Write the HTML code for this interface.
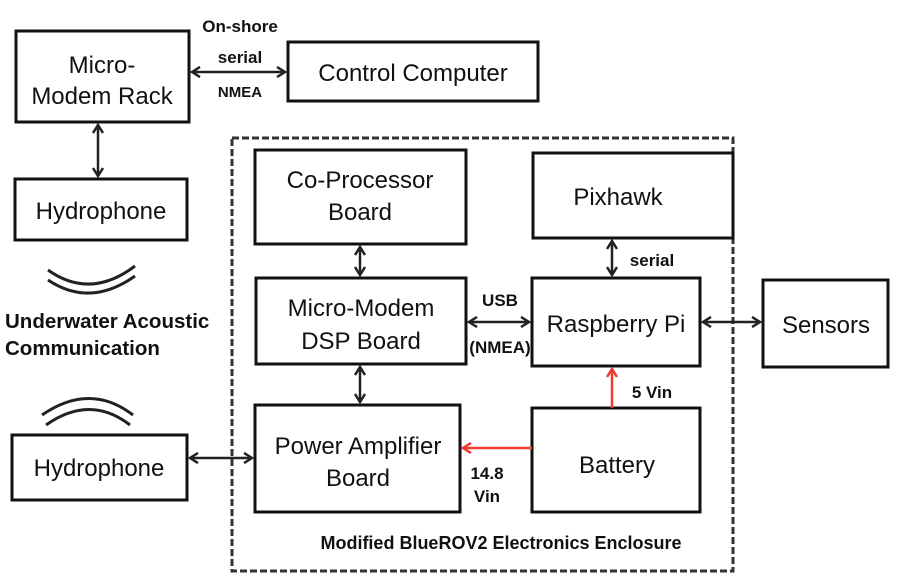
<!DOCTYPE html>
<html><head><meta charset="utf-8"><style>
html,body{margin:0;padding:0;background:#fff;width:902px;height:582px;overflow:hidden}
text{font-family:"Liberation Sans",sans-serif}
.b{font-size:24px;text-anchor:middle}
.l{font-size:17px;font-weight:bold;text-anchor:middle}
</style></head><body>
<svg width="902" height="582" viewBox="0 0 902 582" xmlns="http://www.w3.org/2000/svg">
<defs>
<marker id="a" markerWidth="12" markerHeight="12" refX="9" refY="6" orient="auto-start-reverse" markerUnits="userSpaceOnUse"><path d="M1,1 L9,6 L1,11" fill="none" stroke="#222" stroke-width="2.5"/></marker>
<marker id="r" markerWidth="12" markerHeight="12" refX="9" refY="6" orient="auto" markerUnits="userSpaceOnUse"><path d="M1,1 L9,6 L1,11" fill="none" stroke="#f03b30" stroke-width="2.5"/></marker>
</defs>
<g fill="none" stroke="#111" stroke-width="3">
<rect x="232" y="138" width="501" height="433" stroke-dasharray="7,3" stroke="#333"/>
<rect x="16" y="31" width="173" height="91"/>
<rect x="288" y="42" width="250" height="59"/>
<rect x="15" y="179" width="172" height="61"/>
<rect x="255" y="150" width="211" height="94"/>
<rect x="533" y="153" width="200" height="85"/>
<rect x="256" y="278" width="210" height="86"/>
<rect x="532" y="278" width="168" height="88"/>
<rect x="763" y="280" width="125" height="87"/>
<rect x="255" y="405" width="205" height="107"/>
<rect x="532" y="408" width="168" height="104"/>
<rect x="12" y="435" width="175" height="65"/>
</g>
<g stroke="#222" stroke-width="2.5" fill="none">
<line x1="98" y1="125" x2="98" y2="176" marker-start="url(#a)" marker-end="url(#a)"/>
<line x1="192" y1="72" x2="285" y2="72" marker-start="url(#a)" marker-end="url(#a)"/>
<line x1="360" y1="247" x2="360" y2="275" marker-start="url(#a)" marker-end="url(#a)"/>
<line x1="469" y1="322" x2="529" y2="322" marker-start="url(#a)" marker-end="url(#a)"/>
<line x1="612" y1="241" x2="612" y2="275" marker-start="url(#a)" marker-end="url(#a)"/>
<line x1="703" y1="322" x2="760" y2="322" marker-start="url(#a)" marker-end="url(#a)"/>
<line x1="360" y1="367" x2="360" y2="402" marker-start="url(#a)" marker-end="url(#a)"/>
<line x1="190" y1="458" x2="252" y2="458" marker-start="url(#a)" marker-end="url(#a)"/>
<path d="M48,270 Q90,300 135,266" stroke-width="3"/>
<path d="M48,280 Q90,308 135,276" stroke-width="3"/>
<path d="M42,415 Q90,382 133,415" stroke-width="3"/>
<path d="M46,425 Q90,394 130,425" stroke-width="3"/>
</g>
<g stroke="#f03b30" stroke-width="2.5" fill="none">
<line x1="612" y1="408" x2="612" y2="369" marker-end="url(#r)"/>
<line x1="532" y1="448" x2="463" y2="448" marker-end="url(#r)"/>
</g>
<g fill="#111">
<text class="b" x="102" y="73">Micro-</text>
<text class="b" x="102" y="104">Modem Rack</text>
<text class="b" x="413" y="81">Control Computer</text>
<text class="b" x="101" y="219">Hydrophone</text>
<text class="b" x="360" y="188">Co-Processor</text>
<text class="b" x="360" y="220">Board</text>
<text class="b" x="618" y="205">Pixhawk</text>
<text class="b" x="361" y="316">Micro-Modem</text>
<text class="b" x="361" y="349">DSP Board</text>
<text class="b" x="616" y="332">Raspberry Pi</text>
<text class="b" x="826" y="333">Sensors</text>
<text class="b" x="358" y="454">Power Amplifier</text>
<text class="b" x="358" y="486">Board</text>
<text class="b" x="617" y="473">Battery</text>
<text class="b" x="99" y="476">Hydrophone</text>
<text class="l" x="240" y="32">On-shore</text>
<text class="l" x="240" y="63">serial</text>
<text class="l" x="240" y="97" style="font-size:15px">NMEA</text>
<text class="l" x="500" y="306">USB</text>
<text class="l" x="500" y="353">(NMEA)</text>
<text class="l" x="652" y="266">serial</text>
<text class="l" x="652" y="398">5 Vin</text>
<text class="l" x="487" y="479">14.8</text>
<text class="l" x="487" y="502">Vin</text>
<text class="l" x="501" y="549" style="font-size:18px">Modified BlueROV2 Electronics Enclosure</text>
<text x="5" y="328" style="font-size:20.5px;font-weight:bold">Underwater Acoustic</text>
<text x="5" y="355" style="font-size:20.5px;font-weight:bold">Communication</text>
</g>
</svg>
</body></html>
